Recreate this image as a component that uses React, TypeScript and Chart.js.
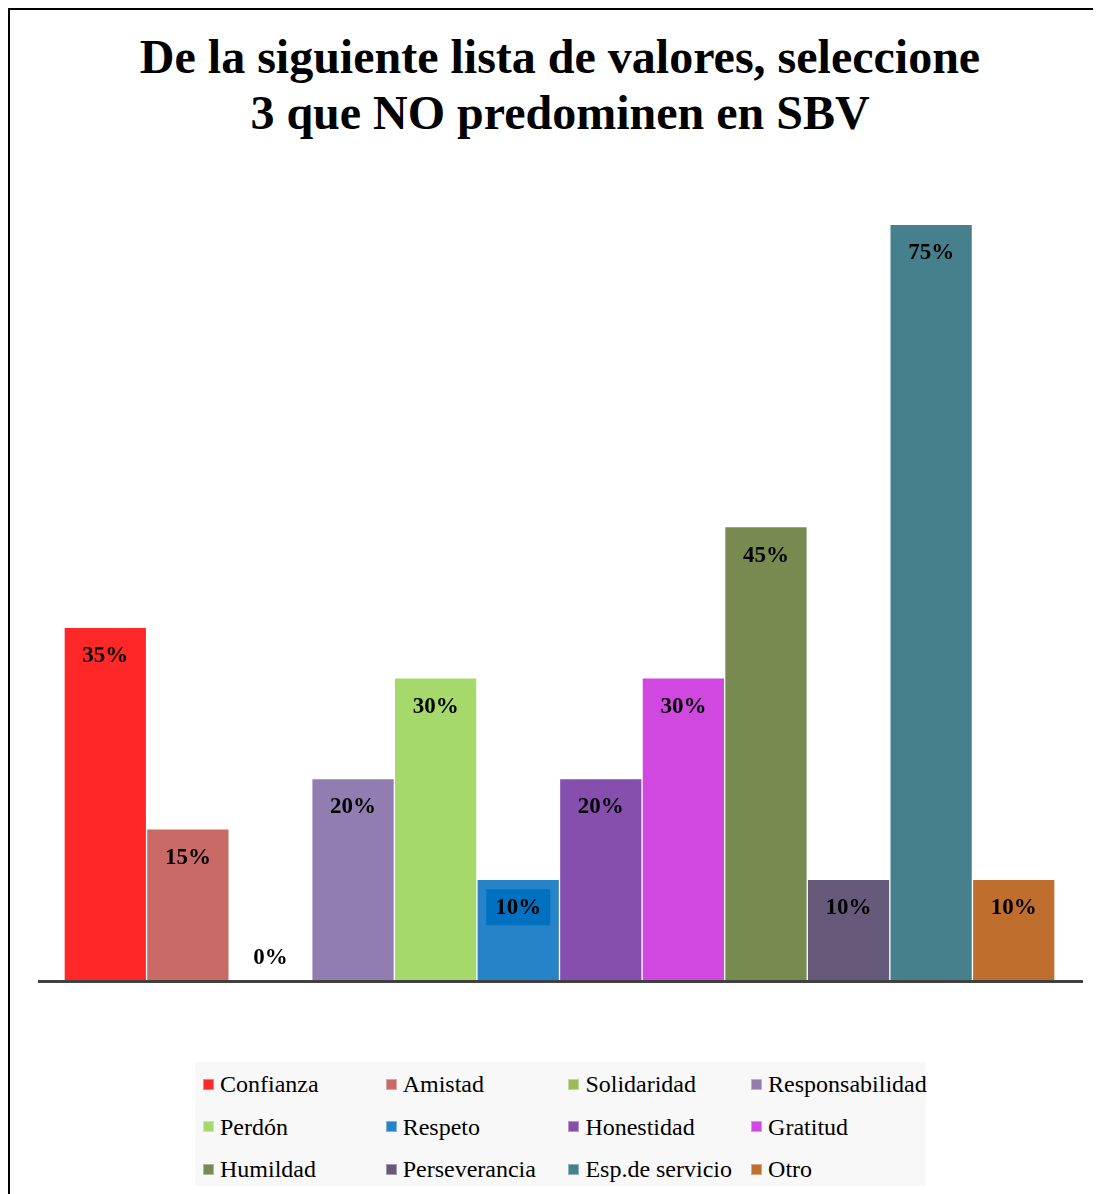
import React, { useEffect, useRef } from "react";
import { Chart, registerables } from "chart.js";

Chart.register(...registerables);

const titleLines = [
  "De la siguiente lista de valores, seleccione",
  "3 que NO predominen en SBV",
];

const categories = [
  "Confianza",
  "Amistad",
  "Solidaridad",
  "Responsabilidad",
  "Perdón",
  "Respeto",
  "Honestidad",
  "Gratitud",
  "Humildad",
  "Perseverancia",
  "Esp.de servicio",
  "Otro",
];

const values = [35, 15, 0, 20, 30, 10, 20, 30, 45, 10, 75, 10];

const barColors = [
  "#FF2828",
  "#C96A66",
  "#9BBB59",
  "#927DB1",
  "#A5D96B",
  "#2783C8",
  "#864FAE",
  "#D048E0",
  "#778A4F",
  "#67597A",
  "#47808D",
  "#C06E2E",
];

const yMax = 80;
const highlightedLabel = 5; // Respeto label has a filled box
const highlightFill = "#0070C0";

const SERIF = '"Liberation Serif", "Times New Roman", serif';

export default function App() {
  const canvasRef = useRef<HTMLCanvasElement | null>(null);

  useEffect(() => {
    if (!canvasRef.current) return;

    const baselinePlugin = {
      id: "baselinePlugin",
      afterDatasetsDraw(chart: any) {
        const { ctx, chartArea } = chart;
        const y0 = chart.scales.y.getPixelForValue(0);
        ctx.save();
        ctx.strokeStyle = "#404040";
        ctx.lineWidth = 3;
        ctx.beginPath();
        ctx.moveTo(chartArea.left - 26, y0 + 1.5);
        ctx.lineTo(chartArea.right + 28, y0 + 1.5);
        ctx.stroke();
        ctx.restore();
      },
    };

    const labelPlugin = {
      id: "labelPlugin",
      afterDatasetsDraw(chart: any) {
        const { ctx } = chart;
        const meta = chart.getDatasetMeta(0);
        ctx.save();
        ctx.font = `bold 23px ${SERIF}`;
        ctx.textAlign = "center";
        ctx.textBaseline = "middle";
        meta.data.forEach((bar: any, i: number) => {
          const v = values[i];
          const cy = v > 0 ? bar.y + 28 : bar.base - 23;
          if (i === highlightedLabel) {
            ctx.fillStyle = highlightFill;
            ctx.fillRect(bar.x - 32, cy - 18, 64, 36);
          }
          ctx.fillStyle = "#000000";
          ctx.fillText(`${v}%`, bar.x, cy + 1);
        });
        ctx.restore();
      },
    };

    const chart = new Chart(canvasRef.current, {
      type: "bar",
      data: {
        labels: categories,
        datasets: [
          {
            data: values,
            backgroundColor: barColors,
            borderColor: "rgba(255,255,255,0.45)",
            borderWidth: 1,
            barPercentage: 1,
            categoryPercentage: 1,
          },
        ],
      },
      options: {
        responsive: false,
        animation: false,
        layout: { padding: { left: 54, right: 55, top: 164, bottom: 30 } },
        plugins: {
          legend: { display: false },
          title: { display: false },
          tooltip: { enabled: false },
        },
        scales: {
          x: { display: false, offset: true, grid: { display: false } },
          y: { display: false, min: 0, max: yMax, grid: { display: false } },
        },
      },
      plugins: [baselinePlugin, labelPlugin],
    });

    return () => chart.destroy();
  }, []);

  return (
    <div style={{ width: 1093, height: 1186, overflow: "hidden" }}>
      <div
        style={{
          position: "relative",
          width: 1100,
          height: 1200,
          border: "2px solid #000",
          background: "#fff",
          fontFamily: SERIF,
        }}
      >
        <div
          style={{
            position: "absolute",
            left: 0,
            top: 19,
            width: 1100,
            textAlign: "center",
            fontWeight: "bold",
            fontSize: 48,
            lineHeight: "56px",
            color: "#000",
          }}
        >
          {titleLines.map((t, i) => (
            <div key={i}>{t}</div>
          ))}
        </div>
        <canvas
          ref={canvasRef}
          width={1100}
          height={1000}
          style={{ position: "absolute", left: 0, top: 0, width: 1100, height: 1000 }}
        />
        <div
          style={{
            position: "absolute",
            left: 185,
            top: 1052,
            width: 731,
            height: 124,
            background: "#F8F8F8",
            display: "grid",
            gridTemplateColumns: "repeat(4, 182.7px)",
            gridAutoRows: "42.5px",
            paddingTop: 1,
            boxSizing: "border-box",
          }}
        >
          {categories.map((c, i) => (
            <div
              key={c}
              style={{
                display: "flex",
                alignItems: "center",
                paddingLeft: 8,
                whiteSpace: "nowrap",
              }}
            >
              <span
                style={{
                  display: "inline-block",
                  width: 11,
                  height: 11,
                  background: barColors[i],
                  boxShadow: "inset 0 0 0 1px rgba(255,255,255,0.4)",
                  marginRight: 6,
                  flex: "none",
                }}
              />
              <span style={{ fontSize: 24, color: "#000", lineHeight: "28px" }}>{c}</span>
            </div>
          ))}
        </div>
      </div>
    </div>
  );
}
